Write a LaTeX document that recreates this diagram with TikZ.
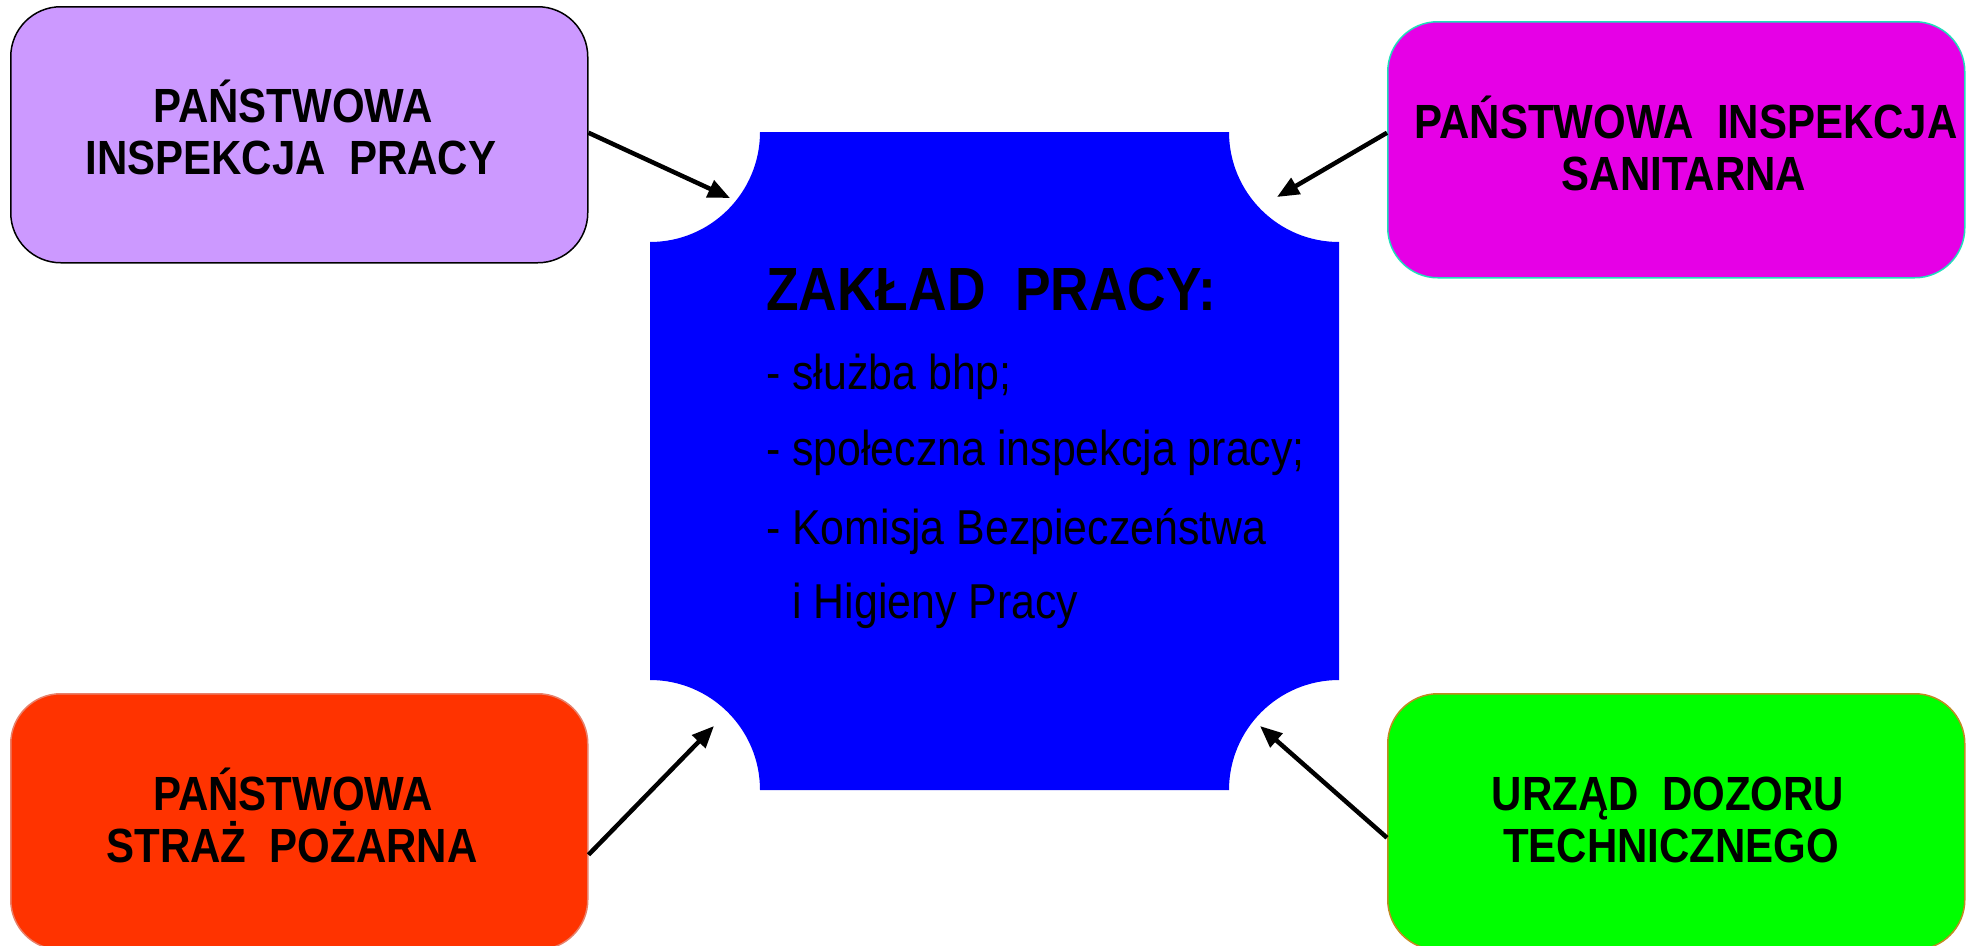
\documentclass[tikz,border=0pt]{standalone}
\usepackage{fontspec}
\setmainfont{Liberation Sans}
\newfontfamily\narrowfont[FakeStretch=0.875]{Liberation Sans}
\usetikzlibrary{arrows.meta,calc}
\definecolor{lilac}{HTML}{CC99FF}
\definecolor{mag}{HTML}{E600E6}
\definecolor{magborder}{HTML}{22DDBB}
\definecolor{fire}{HTML}{FF3300}
\definecolor{fireborder}{HTML}{E8806A}
\definecolor{lime}{HTML}{00FF00}
\definecolor{limeborder}{HTML}{C08A20}
\definecolor{core}{HTML}{0000FF}
\begin{document}
\begin{tikzpicture}[x=1pt,y=1pt,
  box/.style={rounded corners=50pt, line width=1.5pt, minimum width=577pt, minimum height=256pt, inner sep=0pt, anchor=north west},
  lbl/.style={font=\narrowfont\bfseries\fontsize{48}{54}\selectfont, anchor=base, inner sep=0pt},
  ttl/.style={font=\narrowfont\bfseries\fontsize{61}{66}\selectfont, anchor=base west, inner sep=0pt},
  bodytxt/.style={font=\narrowfont\fontsize{49}{56}\selectfont, anchor=base west, inner sep=0pt},
  conn/.style={line width=4.5pt, -{Triangle[length=22pt,width=18pt]}}]
\useasboundingbox (0,0) rectangle (1975,-945);
\clip (0,0) rectangle (1975,-945);

% central shape
\fill[core] (760,-132) -- (1229,-132) arc[start angle=180, end angle=270, radius=110]
  -- (1339,-680) arc[start angle=90, end angle=180, radius=110]
  -- (760,-790) arc[start angle=0, end angle=90, radius=110]
  -- (650,-242) arc[start angle=270, end angle=360, radius=110] -- cycle;

\node[ttl] (title) at (766,-310) {ZAKŁAD\ \ PRACY:};
\node[bodytxt] (l1) at (766,-389) {- służba bhp;};
\node[bodytxt] (l2) at (766,-465) {- społeczna inspekcja pracy;};
\node[bodytxt] (l3) at (766,-544) {- Komisja Bezpieczeństwa};
\node[bodytxt] (l4) at (766,-618) {\phantom{-} i Higieny Pracy};

% boxes
\node[box, draw=black, fill=lilac] (pip) at (10,-6) {};
\node[box, draw=magborder, fill=mag] (pis) at (1387,-21) {};
\node[box, draw=fireborder, fill=fire] (psp) at (10,-693) {};
\node[box, draw=limeborder, fill=lime] (udt) at (1387,-693) {};

\node[lbl] (pipa) at (293,-122) {PAŃSTWOWA};
\node[lbl] (pipb) at (291,-174) {INSPEKCJA\ \ PRACY};
\node[lbl] (pisa) at (1686,-138) {PAŃSTWOWA\ \ INSPEKCJA};
\node[lbl] (pisb) at (1684,-190) {SANITARNA};
\node[lbl] (pspa) at (293,-810) {PAŃSTWOWA};
\node[lbl] (pspb) at (292,-862) {STRAŻ\ \ POŻARNA};
\node[lbl] (udta) at (1668,-810) {URZĄD\ \ DOZORU};
\node[lbl] (udtb) at (1671,-862) {TECHNICZNEGO};

% arrow tips
\coordinate (t1) at (730,-198);
\coordinate (t2) at (1277,-197);
\coordinate (t3) at (714,-726);
\coordinate (t4) at (1260,-726);

\draw[conn] ([yshift=2pt]pip.east) -- (t1);
\draw[conn] ([yshift=17pt]pis.west) -- (t2);
\draw[conn] ([yshift=-33pt]psp.east) -- (t3);
\draw[conn] ([yshift=-16pt]udt.west) -- (t4);
\end{tikzpicture}
\end{document}
